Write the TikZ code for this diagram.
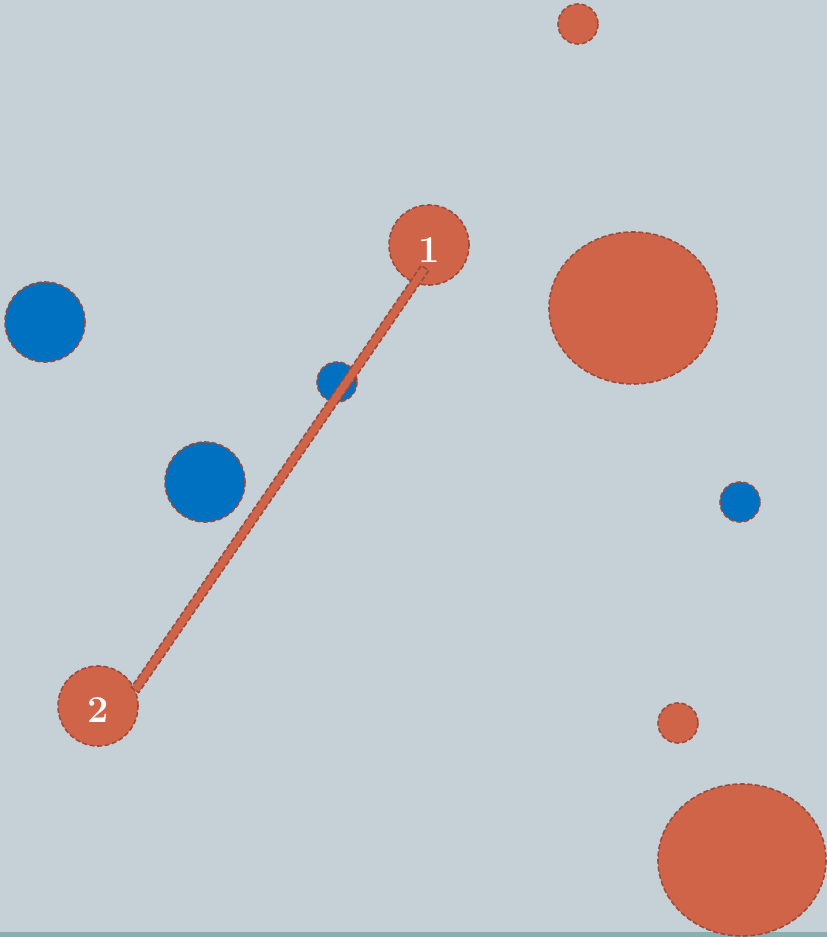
\documentclass[tikz,border=0pt]{standalone}
\usepackage{xcolor}
\usepackage{tikz}
\usetikzlibrary{calc, shapes.geometric, positioning}

\definecolor{nen}{HTML}{C5D1D7}
\definecolor{cam}{HTML}{D06449}
\definecolor{lam}{HTML}{0070C0}
\definecolor{vien}{HTML}{9E4A3A}
\definecolor{day}{HTML}{8AAFB0}

\begin{document}
\begin{tikzpicture}[x=1pt, y=-1pt,
    dot/.style={draw=vien, line width=1.6pt, dash pattern=on 5pt off 2.5pt},
    camdot/.style={dot, fill=cam},
    lamdot/.style={dot, fill=lam},
    so/.style={circle, camdot, minimum size=80pt, inner sep=0pt, text=white,
        font=\fontsize{38}{38}\selectfont\bfseries}]
    % 1. Nền và khung
    \useasboundingbox (0,0) rectangle (827,937);
    \fill[nen] (0,0) rectangle (827,937);
    \fill[day] (0,932) rectangle (827,937);

    % 2. Các hình tròn
    \draw[camdot] (578,24) circle (20);
    \draw[camdot] (633,308) ellipse (84 and 76);
    \draw[camdot] (678,723) circle (20);
    \draw[camdot] (742,860) ellipse (84 and 76);
    \draw[lamdot] (45,322) circle (40);
    \draw[lamdot] (337,382) circle (20);
    \draw[lamdot] (205,482) circle (40);
    \draw[lamdot] (740,502) circle (20);

    % 3. Hai nút đánh số
    \node[so] (one) at (429,245) {\raisebox{-5pt}[\height][0pt]{1}};
    \node[so] (two) at (98,706) {\raisebox{-4pt}[\height][0pt]{2}};

    % 4. Thanh nối 1 -- 2
    \coordinate (a) at ($(one)+(-4,23)$);
    \coordinate (b) at ($(two)+(37,-16)$);
    \draw[camdot] ($(a)!4.5pt!90:(b)$) -- ($(b)!4.5pt!-90:(a)$)
        -- ($(b)!4.5pt!90:(a)$) -- ($(a)!4.5pt!-90:(b)$) -- cycle;
\end{tikzpicture}
\end{document}
